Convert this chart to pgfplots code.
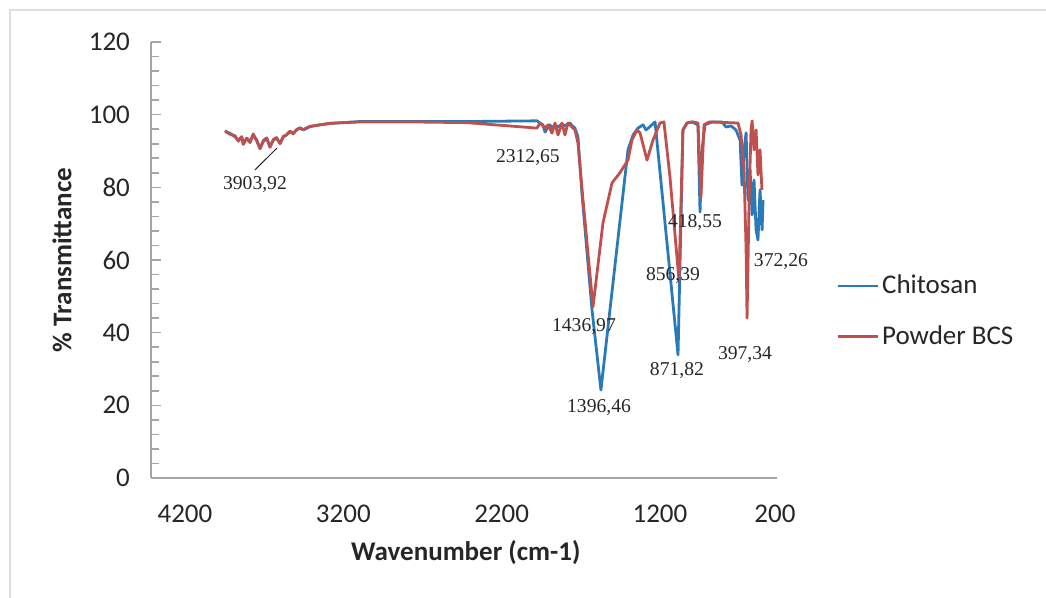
\documentclass[border=0pt]{standalone}
\usepackage{fontspec}
\setmainfont{Carlito}
\newfontfamily\timesf{Liberation Serif}
\usepackage{pgfplots}
\pgfplotsset{compat=1.18}
\definecolor{chblue}{HTML}{2A7AB8}
\definecolor{bcsred}{HTML}{C0504D}
\definecolor{axgray}{HTML}{A6A6A6}
\definecolor{txtgray}{HTML}{262626}
\pgfplotstableread{
x y
3947 95.3
3916 94.9
3884 93.9
3863 93.0
3842 93.9
3832 92.1
3810 93.5
3789 92.6
3769 94.4
3747 93.0
3726 90.8
3705 92.6
3684 93.5
3663 91.2
3642 93.0
3621 93.5
3600 92.1
3579 93.9
3558 94.4
3537 95.3
3516 94.9
3495 95.8
3474 96.3
3453 95.8
3410 96.7
3347 97.2
3284 97.6
3202 97.8
3095 98.1
2779 98.1
2419 98.1
1977 98.3
1958 97.7
1939 97.2
1926 95.2
1907 96.6
1895 97.2
1882 96.3
1863 97.2
1844 96.6
1819 97.4
1800 96.9
1781 97.5
1768 97.7
1756 97.0
1737 96.3
1718 93.9
1693 78.4
1629 46.2
1573 24.2
1402 90.3
1370 94.4
1339 96.3
1307 97.2
1288 95.8
1263 96.7
1231 98.0
1086 33.9
1055 95.8
1029 97.7
998 98.0
960 97.2
947 73.2
935 90.0
916 97.2
871 98.0
808 98.0
783 96.6
751 96.9
720 95.8
694 93.0
682 80.6
669 90.3
656 95.0
644 76.5
631 84.8
618 72.4
606 82.0
593 68.3
581 65.5
568 79.3
555 68.3
549 76.5
}\chitosan
\pgfplotstableread{
x y
3947 95.6
3916 94.6
3884 94.2
3863 92.7
3842 93.9
3832 91.8
3810 93.5
3789 92.3
3769 94.7
3747 92.8
3726 90.6
3705 92.9
3684 93.6
3663 91.0
3642 93.2
3621 93.7
3600 92.0
3579 94.0
3558 94.5
3537 95.5
3516 94.7
3495 95.9
3474 96.4
3453 95.9
3410 96.8
3347 97.2
3284 97.6
3202 97.8
3095 98.0
2779 98.0
2419 97.8
1977 96.3
1958 97.7
1939 96.9
1926 96.3
1907 97.2
1882 94.9
1863 97.7
1844 94.4
1819 97.7
1800 94.4
1781 97.7
1756 96.6
1737 95.8
1718 92.2
1686 76.5
1623 47.1
1560 70.2
1503 81.2
1453 84.0
1402 87.5
1377 93.0
1345 95.8
1326 95.0
1282 87.5
1244 93.0
1200 97.7
1175 98.0
1137 82.9
1080 54.5
1055 95.8
1029 97.7
992 98.0
960 97.7
941 77.3
922 97.2
890 98.0
707 97.7
688 94.4
669 84.8
656 62.8
650 44.0
637 76.5
625 95.8
618 98.3
606 90.3
593 95.8
581 83.4
568 90.3
556 79.3
}\powderbcs
\begin{document}
\begin{tikzpicture}
\useasboundingbox (0,0) rectangle (523pt,299pt);
\draw[gray!25, line width=0.6pt] (5pt,0) -- (5pt,294pt) -- (523pt,294pt);
\begin{axis}[
  at={(75.5pt,60pt)}, anchor=south west,
  width=313pt, height=218pt, scale only axis,
  x dir=reverse, xmin=460.9, xmax=4414.7,
  ymin=0, ymax=120,
  clip=false,
  axis x line=bottom, axis y line=left,
  axis line style={-, axgray, line width=0.8pt},
  xtick={4200,3200,2200,1200,473.6},
  xticklabels={4200,3200,2200,1200,200},
  x tick style={draw=none},
  ytick={0,20,...,120}, minor y tick num=4,
  tick align=inside,
  y tick style={axgray, line width=0.8pt},
  major tick length=5pt, minor tick length=4pt,
  tick label style={font=\fontsize{13.5}{16}\selectfont, text=txtgray},
  /pgf/number format/assume math mode=true,
  yticklabel style={xshift=-7pt},
  xticklabel style={yshift=-10pt},
  xlabel={\textbf{Wavenumber (cm-1)}},
  ylabel={\textbf{\% Transmittance}},
  label style={font=\fontsize{13.5}{16}\selectfont, text=txtgray},
  xlabel style={at={(axis description cs:0.503,-0.17)}, anchor=center},
  ylabel style={at={(axis description cs:-0.142,0.5)}, anchor=center, rotate=0},
  legend style={at={(axis description cs:1.0846,0.382)}, anchor=west,
    draw=none, fill=none, font=\fontsize{13.5}{16}\selectfont, text=txtgray,
    row sep=11.5pt, nodes={inner sep=1.5pt}},
  legend cell align=left,
  legend image code/.code={\draw[#1] (0pt,0pt) -- (20pt,0pt);},
  every axis plot/.append style={line width=1.4pt, line join=round},
]
\addplot[chblue, no markers] table {\chitosan};
\addlegendentry{Chitosan}
\addplot[bcsred, no markers] table {\powderbcs};
\addlegendentry{Powder BCS}
\begin{scope}[every node/.style={font=\timesf\fontsize{9.8}{12}\selectfont, text=txtgray, inner sep=0pt}]
\node at (axis cs:3758,80.9) {3903,92};
\node at (axis cs:2034,88.1) {2312,65};
\node at (axis cs:1680,41.8) {1436,97};
\node at (axis cs:1585,19.3) {1396,46};
\node at (axis cs:1093,29.7) {871,82};
\node at (axis cs:1118,55.6) {856,39};
\node at (axis cs:979,70.2) {418,55};
\node at (axis cs:436,59.5) {372,26};
\node at (axis cs:663,34.1) {397,34};
\end{scope}
\draw[txtgray, line width=0.5pt] (axis cs:3758,84.8) -- (axis cs:3619,90.8);
\end{axis}
\end{tikzpicture}
\end{document}
